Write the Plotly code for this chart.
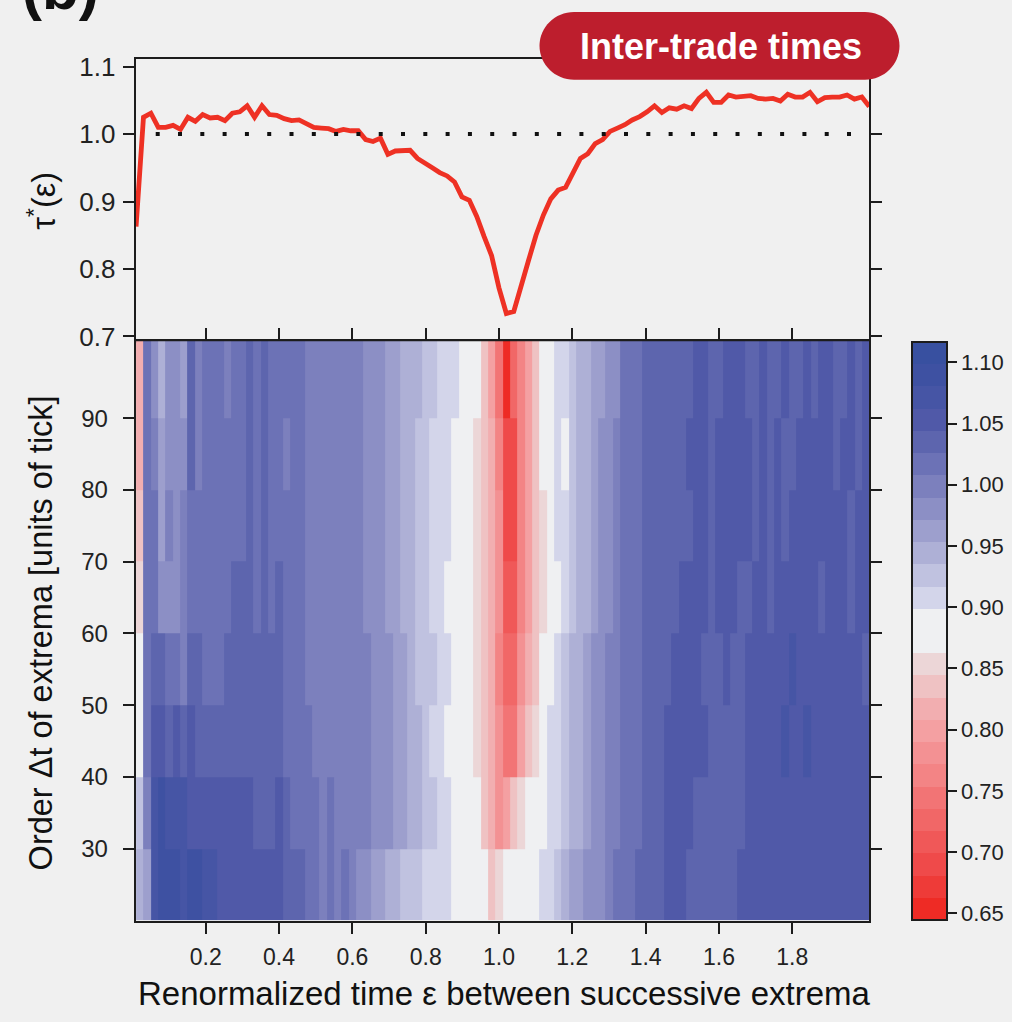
import numpy as np
import plotly.graph_objects as go

W, H = 1012, 1022

# ---------------- data ----------------
# top panel: tau*(eps)
eps_line = np.linspace(0.01, 2.01, 100)
tau_line = [
    0.863, 1.025, 1.031, 1.010, 1.010, 1.013, 1.007, 1.025, 1.019, 1.029,
    1.024, 1.025, 1.020, 1.031, 1.033, 1.042, 1.025, 1.042, 1.029, 1.028,
    1.023, 1.020, 1.021, 1.015, 1.010, 1.009, 1.008, 1.004, 1.007, 1.005,
    1.005, 0.992, 0.989, 0.994, 0.970, 0.975, 0.976, 0.976, 0.964, 0.956,
    0.950, 0.943, 0.938, 0.929, 0.907, 0.902, 0.878, 0.848, 0.820, 0.772,
    0.734, 0.737, 0.778, 0.813, 0.850, 0.880, 0.904, 0.917, 0.921, 0.944,
    0.964, 0.971, 0.986, 0.992, 1.004, 1.009, 1.014, 1.021, 1.026, 1.033,
    1.042, 1.032, 1.039, 1.037, 1.042, 1.038, 1.053, 1.062, 1.047, 1.047,
    1.058, 1.055, 1.056, 1.057, 1.053, 1.052, 1.053, 1.049, 1.059, 1.055,
    1.055, 1.062, 1.048, 1.054, 1.055, 1.055, 1.058, 1.052, 1.055, 1.041,
]
ref_level = 1.0

# heatmap: columns of eps, bands of Delta t
eps_cells = [round(0.02 * k, 2) for k in range(1, 101)]
dt_edges = [20, 30, 40, 50, 60, 70, 80, 90, 101]

band_90_100 = [
    0.81, 1.015, 0.98, 0.945, 0.98, 0.98, 0.96, 1.035, 1.00, 1.015,
    1.015, 1.015, 1.00, 1.015, 1.015, 1.035, 1.015, 1.035, 1.015, 1.015,
    1.015, 1.015, 1.015, 1.00, 1.00, 1.00, 1.00, 1.00, 1.00, 1.00,
    1.00, 0.98, 0.98, 0.98, 0.96, 0.96, 0.945, 0.945, 0.945, 0.925,
    0.925, 0.905, 0.905, 0.905, 0.88, 0.88, 0.88, 0.835, 0.80, 0.745,
    0.655, 0.725, 0.76, 0.80, 0.835, 0.88, 0.88, 0.905, 0.905, 0.925,
    0.945, 0.945, 0.96, 0.96, 0.98, 0.98, 1.015, 1.015, 1.015, 1.035,
    1.035, 1.035, 1.035, 1.035, 1.035, 1.035, 1.05, 1.05, 1.035, 1.035,
    1.05, 1.05, 1.05, 1.035, 1.035, 1.05, 1.035, 1.035, 1.05, 1.035,
    1.035, 1.05, 1.035, 1.05, 1.05, 1.035, 1.035, 1.05, 1.035, 1.05,
]
band_80_90 = [
    0.815, 1.015, 1.00, 0.96, 0.98, 0.98, 0.98, 1.035, 1.00, 1.015,
    1.015, 1.015, 1.015, 1.015, 1.015, 1.035, 1.015, 1.035, 1.015, 1.015,
    1.00, 1.015, 1.015, 1.00, 1.00, 1.00, 1.00, 1.00, 1.00, 1.00,
    1.00, 0.98, 0.98, 0.98, 0.96, 0.96, 0.945, 0.945, 0.925, 0.925,
    0.905, 0.905, 0.905, 0.88, 0.88, 0.88, 0.855, 0.835, 0.815, 0.76,
    0.69, 0.69, 0.76, 0.80, 0.835, 0.88, 0.88, 0.905, 0.88, 0.925,
    0.945, 0.945, 0.96, 0.98, 0.98, 1.00, 1.015, 1.015, 1.015, 1.035,
    1.035, 1.035, 1.035, 1.035, 1.035, 1.05, 1.05, 1.05, 1.035, 1.05,
    1.05, 1.05, 1.05, 1.05, 1.035, 1.05, 1.035, 1.05, 1.035, 1.035,
    1.05, 1.05, 1.05, 1.05, 1.05, 1.035, 1.05, 1.05, 1.035, 1.05,
]
band_70_80 = [
    0.835, 1.015, 1.015, 0.96, 1.00, 0.98, 1.00, 1.015, 1.015, 1.015,
    1.015, 1.015, 1.015, 1.015, 1.015, 1.035, 1.015, 1.035, 1.015, 1.015,
    1.015, 1.015, 1.015, 1.00, 1.00, 1.00, 1.00, 1.00, 1.00, 1.00,
    1.00, 0.98, 0.98, 0.98, 0.96, 0.96, 0.945, 0.945, 0.925, 0.925,
    0.905, 0.905, 0.905, 0.88, 0.88, 0.88, 0.855, 0.835, 0.815, 0.78,
    0.69, 0.69, 0.76, 0.80, 0.835, 0.855, 0.88, 0.905, 0.905, 0.925,
    0.945, 0.945, 0.96, 0.98, 0.98, 1.00, 1.015, 1.015, 1.015, 1.035,
    1.035, 1.035, 1.035, 1.035, 1.035, 1.035, 1.05, 1.05, 1.035, 1.05,
    1.05, 1.05, 1.05, 1.05, 1.035, 1.05, 1.035, 1.05, 1.035, 1.05,
    1.05, 1.05, 1.05, 1.05, 1.05, 1.05, 1.05, 1.035, 1.05, 1.05,
]
band_60_70 = [
    0.855, 1.015, 1.015, 0.98, 0.98, 0.98, 1.00, 1.015, 1.015, 1.015,
    1.015, 1.015, 1.015, 1.035, 1.035, 1.035, 1.015, 1.035, 1.015, 1.035,
    1.015, 1.015, 1.015, 1.00, 1.00, 1.00, 1.00, 1.00, 1.00, 1.00,
    1.00, 0.98, 0.98, 0.98, 0.96, 0.96, 0.945, 0.945, 0.925, 0.925,
    0.905, 0.905, 0.88, 0.88, 0.88, 0.88, 0.855, 0.835, 0.815, 0.78,
    0.71, 0.71, 0.76, 0.80, 0.835, 0.855, 0.88, 0.88, 0.905, 0.925,
    0.945, 0.945, 0.96, 0.98, 0.98, 1.00, 1.015, 1.015, 1.015, 1.035,
    1.035, 1.035, 1.035, 1.035, 1.05, 1.05, 1.05, 1.05, 1.035, 1.05,
    1.05, 1.05, 1.035, 1.035, 1.05, 1.05, 1.035, 1.05, 1.05, 1.05,
    1.05, 1.05, 1.05, 1.035, 1.05, 1.05, 1.05, 1.035, 1.05, 1.05,
]
band_50_60 = [
    0.88, 1.015, 1.035, 1.035, 1.015, 1.015, 1.00, 1.035, 1.035, 1.015,
    1.015, 1.015, 1.035, 1.035, 1.035, 1.035, 1.035, 1.035, 1.035, 1.035,
    1.015, 1.015, 1.015, 1.00, 1.00, 1.00, 1.00, 1.00, 1.00, 1.00,
    1.00, 1.00, 0.98, 0.98, 0.98, 0.96, 0.96, 0.945, 0.925, 0.925,
    0.925, 0.905, 0.905, 0.88, 0.88, 0.88, 0.855, 0.835, 0.815, 0.76,
    0.725, 0.725, 0.78, 0.815, 0.835, 0.88, 0.88, 0.905, 0.925, 0.945,
    0.945, 0.96, 0.98, 0.98, 1.00, 1.00, 1.015, 1.015, 1.015, 1.035,
    1.035, 1.035, 1.035, 1.05, 1.05, 1.05, 1.05, 1.035, 1.035, 1.035,
    1.05, 1.035, 1.035, 1.05, 1.05, 1.05, 1.05, 1.05, 1.05, 1.07,
    1.05, 1.05, 1.05, 1.05, 1.05, 1.05, 1.05, 1.05, 1.05, 1.035,
]
band_40_50 = [
    0.88, 1.015, 1.05, 1.05, 1.035, 1.05, 1.035, 1.05, 1.035, 1.035,
    1.035, 1.035, 1.035, 1.035, 1.035, 1.035, 1.035, 1.035, 1.035, 1.035,
    1.015, 1.015, 1.015, 1.015, 1.00, 1.00, 1.00, 1.00, 1.00, 1.00,
    1.00, 1.00, 0.98, 0.98, 0.98, 0.96, 0.96, 0.945, 0.945, 0.925,
    0.905, 0.905, 0.88, 0.88, 0.88, 0.88, 0.855, 0.835, 0.815, 0.78,
    0.745, 0.745, 0.80, 0.835, 0.855, 0.88, 0.905, 0.905, 0.925, 0.945,
    0.945, 0.96, 0.98, 0.98, 1.00, 1.00, 1.015, 1.015, 1.015, 1.035,
    1.035, 1.035, 1.05, 1.05, 1.05, 1.05, 1.05, 1.05, 1.035, 1.035,
    1.035, 1.035, 1.035, 1.05, 1.05, 1.05, 1.05, 1.05, 1.07, 1.05,
    1.05, 1.07, 1.05, 1.05, 1.05, 1.05, 1.05, 1.05, 1.05, 1.05,
]
band_30_40 = [
    0.925, 1.00, 1.07, 1.09, 1.07, 1.07, 1.07, 1.05, 1.05, 1.05,
    1.05, 1.05, 1.05, 1.05, 1.05, 1.05, 1.035, 1.035, 1.035, 1.05,
    1.035, 1.015, 1.015, 1.015, 1.015, 1.00, 1.015, 1.00, 1.00, 1.00,
    1.00, 1.00, 0.98, 0.98, 0.98, 0.96, 0.96, 0.945, 0.945, 0.925,
    0.925, 0.905, 0.905, 0.88, 0.88, 0.88, 0.88, 0.835, 0.815, 0.78,
    0.80, 0.835, 0.855, 0.88, 0.88, 0.88, 0.905, 0.905, 0.925, 0.945,
    0.945, 0.96, 0.98, 0.98, 1.00, 1.00, 1.015, 1.015, 1.015, 1.035,
    1.035, 1.035, 1.05, 1.05, 1.05, 1.05, 1.035, 1.035, 1.035, 1.035,
    1.035, 1.035, 1.035, 1.05, 1.05, 1.05, 1.05, 1.05, 1.05, 1.05,
    1.05, 1.05, 1.05, 1.05, 1.05, 1.05, 1.05, 1.05, 1.05, 1.05,
]
band_20_30 = [
    0.945, 0.96, 1.07, 1.09, 1.09, 1.09, 1.07, 1.09, 1.09, 1.07,
    1.07, 1.05, 1.05, 1.05, 1.05, 1.05, 1.05, 1.05, 1.05, 1.05,
    1.035, 1.035, 1.035, 1.015, 1.015, 1.00, 1.015, 1.00, 1.015, 1.00,
    0.98, 0.98, 0.96, 0.96, 0.945, 0.945, 0.925, 0.925, 0.925, 0.905,
    0.905, 0.905, 0.905, 0.88, 0.88, 0.88, 0.88, 0.88, 0.835, 0.855,
    0.88, 0.88, 0.88, 0.88, 0.88, 0.905, 0.905, 0.925, 0.945, 0.96,
    0.96, 0.98, 0.98, 0.98, 1.00, 1.015, 1.015, 1.015, 1.035, 1.035,
    1.035, 1.035, 1.05, 1.05, 1.05, 1.035, 1.035, 1.035, 1.035, 1.035,
    1.035, 1.035, 1.05, 1.05, 1.05, 1.05, 1.05, 1.05, 1.05, 1.05,
    1.05, 1.05, 1.05, 1.05, 1.05, 1.05, 1.05, 1.05, 1.05, 1.05,
]
z_bands = [band_20_30, band_30_40, band_40_50, band_50_60,
           band_60_70, band_70_80, band_80_90, band_90_100]

x_ticks = [0.2, 0.4, 0.6, 0.8, 1.0, 1.2, 1.4, 1.6, 1.8]
tau_ticks = [0.7, 0.8, 0.9, 1.0, 1.1]
dt_ticks = [30, 40, 50, 60, 70, 80, 90]
cb_ticks = [0.65, 0.70, 0.75, 0.80, 0.85, 0.90, 0.95, 1.00, 1.05, 1.10]

# ---------------- style ----------------
ZMIN, ZMAX = 0.6443, 1.1162
level_colors = [
    '#ee2b25', '#ee3b38', '#ef4a4a', '#f05858', '#f16767', '#f27475',
    '#f38485', '#f39193', '#f4a0a2', '#f2aeb0', '#efc2c3', '#ecd6d7',
    '#eff0f2', '#eff0f2',
    '#d3d5ea', '#c0c2e0', '#aeb0d6', '#9d9fcd', '#8c8fc5', '#7c80bd',
    '#6c72b6', '#5d65ae', '#5059a8', '#4655a5', '#3e51a2', '#3850a0',
]
n = len(level_colors)
cscale = []
for k, c in enumerate(level_colors):
    cscale.append([k / n, c])
    cscale.append([(k + 1) / n, c])

FONT = 'Liberation Sans, Arial, Helvetica, sans-serif'
AX = '#1c1c1c'
BG = '#f0f0f0'


def tf(size):
    return dict(family=FONT, size=size, color='#222')


def fx(p):
    return p / W


def fy(p):
    return 1 - p / H


X0, X1 = 135.7, 869.0
XR = [0.009, 2.0093]

fig = go.Figure()

fig.add_trace(go.Heatmap(
    x=eps_cells, y=dt_edges, z=z_bands,
    xaxis='x2', yaxis='y2',
    colorscale=cscale, zmin=ZMIN, zmax=ZMAX,
    colorbar=dict(
        x=fx(912), xanchor='left', y=fy(635), yanchor='middle',
        len=588 / H, lenmode='fraction', thickness=35,
        xpad=0, ypad=0, outlinewidth=2, outlinecolor=AX,
        tickvals=cb_ticks, ticktext=[f'{v:.2f}' for v in cb_ticks],
        ticks='outside', ticklen=9, tickwidth=2, tickcolor=AX,
        tickfont=tf(22),
    ),
    hoverinfo='skip',
))

fig.add_trace(go.Scatter(
    x=eps_line, y=tau_line, mode='lines',
    line=dict(color='#ee3124', width=4.8),
    xaxis='x', yaxis='y', showlegend=False, hoverinfo='skip',
))

axis_common = dict(showgrid=False, zeroline=False, showline=True,
                   linecolor=AX, linewidth=2, tickcolor=AX, tickwidth=2)

fig.update_layout(
    width=W, height=H,
    margin=dict(l=0, r=0, t=0, b=0),
    paper_bgcolor=BG, plot_bgcolor='rgba(0,0,0,0)',
    showlegend=False,
    xaxis=dict(domain=[fx(X0), fx(X1)], range=XR, anchor='y',
               showticklabels=False, ticks='', mirror=True, **axis_common),
    yaxis=dict(domain=[fy(340), fy(53.3)], range=[0.6927, 1.1108], anchor='x',
               tickvals=tau_ticks, ticktext=[f'{v:.1f}' for v in tau_ticks],
               ticks='outside', ticklen=11, mirror='ticks',
               tickfont=tf(26), ticklabelstandoff=2, **axis_common),
    xaxis2=dict(domain=[fx(X0), fx(X1)], range=XR, anchor='y2',
                tickvals=x_ticks, ticktext=[f'{v:.1f}' for v in x_ticks],
                ticks='outside', ticklen=11, mirror='ticks',
                tickfont=tf(23), ticklabelstandoff=4, **axis_common),
    yaxis2=dict(domain=[fy(929), fy(340)], range=[20.0, 100.7], anchor='x2',
                tickvals=dt_ticks, ticks='outside', ticklen=11,
                mirror='ticks', tickfont=tf(24), ticklabelstandoff=10,
                **axis_common),
)

# dotted reference line at tau* = 1
fig.add_shape(type='line', xref='x', yref='y', x0=0.0636, x1=1.97,
              y0=ref_level, y1=ref_level,
              line=dict(color='#111', width=4, dash='4px,18.3px'))

# badge
bx0, bx1, by0, by1 = 539.5, 899.5, 5.0, 74.0
r = (by1 - by0) / 2
ym = (by0 + by1) / 2
kk = 0.5523 * r


def P(x, y):
    return f'{fx(x):.5f},{fy(y):.5f}'


path = (f'M {P(bx0 + r, by0)} L {P(bx1 - r, by0)} '
        f'C {P(bx1 - r + kk, by0)} {P(bx1, ym - kk)} {P(bx1, ym)} '
        f'C {P(bx1, ym + kk)} {P(bx1 - r + kk, by1)} {P(bx1 - r, by1)} '
        f'L {P(bx0 + r, by1)} '
        f'C {P(bx0 + r - kk, by1)} {P(bx0, ym + kk)} {P(bx0, ym)} '
        f'C {P(bx0, ym - kk)} {P(bx0 + r - kk, by0)} {P(bx0 + r, by0)} Z')
fig.add_shape(type='path', xref='paper', yref='paper', path=path,
              fillcolor='#bd1e2d', line=dict(width=0), layer='above')

annots = [
    dict(text='<b>Inter-trade times</b>', x=fx(721), y=fy(40),
         font=dict(family=FONT, size=36, color='white')),
    dict(text='<b>(b)</b>', x=fx(20), y=fy(-19), xanchor='left',
         font=dict(family=FONT, size=60, color='#111')),
    dict(text='Renormalized time ε between successive extrema',
         x=fx(504), y=fy(1003),
         font=dict(family=FONT, size=33, color='#111')),
    dict(text='Order Δt of extrema [units of tick]', x=fx(41), y=fy(637),
         textangle=-90, font=dict(family=FONT, size=32.5, color='#111')),
    dict(text='τ<sup>*</sup>(ε)', x=fx(41), y=fy(197),
         textangle=-90, font=dict(family=FONT, size=32.5, color='#111')),
]
for a in annots:
    a.setdefault('xanchor', 'center')
    a.setdefault('yanchor', 'middle')
    fig.add_annotation(xref='paper', yref='paper', showarrow=False, **a)

fig.write_html('out.html')
